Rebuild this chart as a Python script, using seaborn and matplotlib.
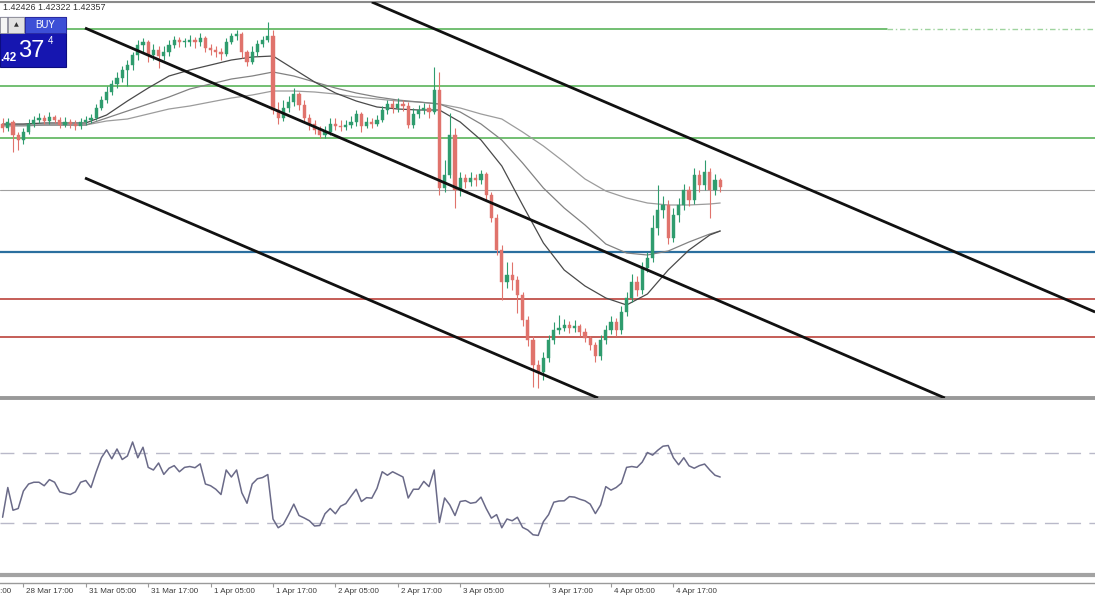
import numpy as np
import pandas as pd
import matplotlib.pyplot as plt
from matplotlib.patches import Rectangle
import seaborn as sns

# hourly bars (price)
closes = [1.4298, 1.4304, 1.4291, 1.4286, 1.4294, 1.4302, 1.4306, 1.4308, 1.4305, 1.4309,
          1.4306, 1.4301, 1.4304, 1.4302, 1.4300, 1.4304, 1.4306, 1.4308, 1.4318, 1.4326,
          1.4334, 1.4342, 1.4348, 1.4356, 1.4361, 1.4371, 1.4381, 1.4384, 1.4371, 1.4376,
          1.4370, 1.4374, 1.4381, 1.4386, 1.4384, 1.4384, 1.4386, 1.4384, 1.4388, 1.4378,
          1.4376, 1.4374, 1.4372, 1.4384, 1.4390, 1.4392, 1.4374, 1.4364, 1.4374, 1.4382,
          1.4386, 1.4390, 1.4316, 1.4308, 1.4318, 1.4324, 1.4332, 1.4321, 1.4308, 1.4302,
          1.4296, 1.4291, 1.4294, 1.4302, 1.4300, 1.4299, 1.4301, 1.4304, 1.4312, 1.4300,
          1.4304, 1.4302, 1.4306, 1.4316, 1.4322, 1.4318, 1.4322, 1.4320, 1.4301, 1.4312,
          1.4316, 1.4318, 1.4314, 1.4336, 1.4238, 1.4251, 1.4291, 1.4236, 1.4248, 1.4244,
          1.4248, 1.4246, 1.4252, 1.4231, 1.4208, 1.4176, 1.4144, 1.4151, 1.4146, 1.4131,
          1.4106, 1.4086, 1.4061, 1.4054, 1.4068, 1.4086, 1.4096, 1.4098, 1.4101, 1.4098,
          1.4100, 1.4094, 1.4088, 1.4081, 1.4070, 1.4086, 1.4096, 1.4104, 1.4096, 1.4114,
          1.4128, 1.4144, 1.4136, 1.4158, 1.4168, 1.4198, 1.4216, 1.4221, 1.4188, 1.4211,
          1.4221, 1.4236, 1.4226, 1.4251, 1.4241, 1.4254, 1.4236, 1.4246, 1.4239]
highs = [1.4308, 1.4308, 1.4306, 1.4294, 1.4298, 1.4307, 1.4310, 1.4313, 1.4311, 1.4314,
         1.4311, 1.4309, 1.4309, 1.4307, 1.4306, 1.4308, 1.4310, 1.4312, 1.4322, 1.4330,
         1.4340, 1.4346, 1.4354, 1.4360, 1.4366, 1.4374, 1.4386, 1.4388, 1.4386, 1.4382,
         1.4380, 1.4380, 1.4386, 1.4390, 1.4389, 1.4388, 1.4391, 1.4389, 1.4393, 1.4390,
         1.4382, 1.4380, 1.4378, 1.4388, 1.4393, 1.4396, 1.4394, 1.4376, 1.4380, 1.4386,
         1.4390, 1.4404, 1.4396, 1.4324, 1.4326, 1.4330, 1.4338, 1.4334, 1.4326, 1.4312,
         1.4306, 1.4300, 1.4300, 1.4308, 1.4308, 1.4306, 1.4306, 1.4310, 1.4316, 1.4314,
         1.4309, 1.4308, 1.4311, 1.4320, 1.4326, 1.4326, 1.4328, 1.4326, 1.4324, 1.4318,
         1.4321, 1.4323, 1.4322, 1.4359, 1.4354, 1.4266, 1.4313, 1.4298, 1.4254, 1.4252,
         1.4254, 1.4252, 1.4256, 1.4254, 1.4234, 1.4212, 1.4181, 1.4164, 1.4164, 1.4150,
         1.4134, 1.4110, 1.4090, 1.4066, 1.4074, 1.4091, 1.4104, 1.4111, 1.4107, 1.4105,
         1.4106, 1.4102, 1.4098, 1.4090, 1.4084, 1.4091, 1.4101, 1.4110, 1.4108, 1.4120,
         1.4134, 1.4152, 1.4150, 1.4164, 1.4174, 1.4211, 1.4241, 1.4230, 1.4226, 1.4218,
         1.4228, 1.4242, 1.4240, 1.4258, 1.4256, 1.4266, 1.4258, 1.4252, 1.4248]
lows = [1.4294, 1.4295, 1.4274, 1.4276, 1.4282, 1.4292, 1.4299, 1.4303, 1.4302, 1.4302,
        1.4303, 1.4298, 1.4299, 1.4298, 1.4296, 1.4297, 1.4301, 1.4303, 1.4306, 1.4316,
        1.4323, 1.4331, 1.4338, 1.4344, 1.4340, 1.4356, 1.4366, 1.4374, 1.4364, 1.4366,
        1.4358, 1.4366, 1.4370, 1.4378, 1.4379, 1.4379, 1.4380, 1.4378, 1.4380, 1.4374,
        1.4371, 1.4369, 1.4366, 1.4370, 1.4382, 1.4386, 1.4368, 1.4360, 1.4362, 1.4370,
        1.4379, 1.4384, 1.4312, 1.4302, 1.4305, 1.4314, 1.4320, 1.4316, 1.4304, 1.4296,
        1.4292, 1.4288, 1.4288, 1.4291, 1.4296, 1.4295, 1.4296, 1.4298, 1.4300, 1.4294,
        1.4298, 1.4298, 1.4300, 1.4304, 1.4312, 1.4313, 1.4314, 1.4315, 1.4298, 1.4298,
        1.4308, 1.4312, 1.4308, 1.4312, 1.4231, 1.4234, 1.4248, 1.4218, 1.4230, 1.4238,
        1.4240, 1.4240, 1.4242, 1.4226, 1.4204, 1.4171, 1.4126, 1.4138, 1.4136, 1.4113,
        1.4100, 1.4080, 1.4039, 1.4038, 1.4046, 1.4064, 1.4082, 1.4092, 1.4095, 1.4093,
        1.4094, 1.4090, 1.4084, 1.4076, 1.4064, 1.4066, 1.4082, 1.4092, 1.4090, 1.4092,
        1.4110, 1.4124, 1.4130, 1.4132, 1.4154, 1.4164, 1.4191, 1.4208, 1.4182, 1.4184,
        1.4204, 1.4216, 1.4220, 1.4222, 1.4234, 1.4236, 1.4208, 1.4231, 1.4234]
opens = [1.4302] + closes[:-1]

# moving averages, sampled every 4th bar
ma_idx = list(range(0, 137, 4)) + [138]
ma_fast = [1.4302, 1.4302, 1.4303, 1.4303, 1.4303, 1.4311, 1.4325, 1.4338, 1.4350, 1.4356,
           1.4361, 1.4366, 1.4369, 1.4370, 1.4357, 1.4344, 1.4333, 1.4325, 1.4319, 1.4317,
           1.4316, 1.4316, 1.4304, 1.4286, 1.4260, 1.4221, 1.4183, 1.4156, 1.4140, 1.4128,
           1.4121, 1.4132, 1.4156, 1.4176, 1.4191, 1.4195]
ma_mid = [1.4301, 1.4301, 1.4301, 1.4301, 1.4301, 1.4308, 1.4315, 1.4322, 1.4329, 1.4337,
          1.4342, 1.4347, 1.4350, 1.4354, 1.4350, 1.4344, 1.4338, 1.4333, 1.4329, 1.4326,
          1.4324, 1.4322, 1.4314, 1.4302, 1.4286, 1.4263, 1.4238, 1.4218, 1.4201, 1.4182,
          1.4173, 1.4171, 1.4175, 1.4184, 1.4192, 1.4195]
ma_slow = [1.4300, 1.4300, 1.4301, 1.4301, 1.4301, 1.4305, 1.4307, 1.4312, 1.4317, 1.4320,
           1.4324, 1.4328, 1.4331, 1.4335, 1.4335, 1.4334, 1.4332, 1.4329, 1.4327, 1.4325,
           1.4324, 1.4322, 1.4318, 1.4312, 1.4307, 1.4294, 1.4280, 1.4264, 1.4247, 1.4235,
           1.4228, 1.4223, 1.4221, 1.4221, 1.4222, 1.4223]

rsi = [33, 50, 37, 38, 48, 52, 53, 53, 51, 54.5,
       53, 47.5, 46.7, 46, 47.5, 53, 54, 50, 59, 67,
       71.5, 66.4, 72, 66, 68, 76, 67, 73, 61.5, 60,
       64, 57.5, 61, 62.5, 59, 61.5, 62, 61.3, 63.5, 52,
       51, 49, 46, 60, 56, 60, 47, 41, 52, 55,
       55.7, 57.4, 32, 27, 29, 34.5, 40.5, 34, 32.6, 31,
       28, 28.3, 35, 38, 35, 39.3, 40.8, 45, 49, 42,
       44.2, 43.9, 49.5, 59, 57, 59, 57.5, 56, 44, 49,
       49, 53.5, 50.5, 60, 30, 44, 40, 34, 42, 42.5,
       41, 41.5, 44.5, 38, 32.5, 34.5, 27, 32, 31, 33,
       27.2, 25.7, 23, 22.6, 30.5, 34.5, 41.6, 42.3, 42.4, 44.8,
       44.5, 43.3, 42.4, 40.5, 35.1, 40, 50.5, 48.5, 50, 52.5,
       61.5, 62, 61.5, 64.5, 70, 68.5, 71.3, 73.6, 74, 67,
       63, 67, 62.4, 61, 62.5, 63.4, 60, 57, 56]

levels_green = [1.4397, 1.4340, 1.4288]
level_gray = 1.4236
level_blue = 1.4174
levels_red = [1.4127, 1.4089]

# trend channel (bar index, price)
chan_up = ([71.0, 210.1], [1.4424, 1.4114])
chan_mid = ([15.85, 181.2], [1.4398, 1.4028])
chan_low = ([15.85, 114.5], [1.4248, 1.4028])

tick_idx = [-8, 4, 16, 28, 40, 52, 64, 76, 88, 105, 117, 129]
tick_labels = ["28 Mar 05:00", "28 Mar 17:00", "31 Mar 05:00", "31 Mar 17:00", "1 Apr 05:00",
               "1 Apr 17:00", "2 Apr 05:00", "2 Apr 17:00", "3 Apr 05:00", "3 Apr 17:00",
               "4 Apr 05:00", "4 Apr 17:00"]

sns.set_theme(style="white")
plt.rcParams['font.family'] = ['Liberation Sans', 'DejaVu Sans']

bars = pd.DataFrame({"open": opens, "high": highs, "low": lows, "close": closes})
bars["idx"] = np.arange(len(bars))
ma = pd.DataFrame({"idx": ma_idx, "fast": ma_fast, "mid": ma_mid, "slow": ma_slow})
osc = pd.DataFrame({"idx": np.arange(len(rsi)), "rsi": rsi})

W, H = 1095, 600
fig = plt.figure(figsize=(W / 100, H / 100), dpi=100)
ax = fig.add_axes([0, 202 / H, 1, 396 / H])
ax_rsi = fig.add_axes([0, 25 / H, 1, 175 / H])
ax_t = fig.add_axes([0, 17 / H, 1, 5 / H])
xlim = (-0.5, W / 5.2 - 0.5)

# horizontal levels
ax.axhline(levels_green[0], xmin=0, xmax=0.81, color="#4cae4c", lw=1.1)
ax.axhline(levels_green[0], xmin=0.81, xmax=1, color="#9fd49f", lw=1.0, ls=(0, (4, 2, 1, 2)))
for lv in levels_green[1:]:
    ax.axhline(lv, color="#4cae4c", lw=1.1)
ax.axhline(level_gray, color="#a0a0a0", lw=0.8)
ax.axhline(level_blue, color="#2b6f9f", lw=1.6)
for lv in levels_red:
    ax.axhline(lv, color="#c0504a", lw=1.3)

# moving averages
sns.lineplot(data=ma, x="idx", y="slow", ax=ax, color="#9c9c9c", lw=0.9)
sns.lineplot(data=ma, x="idx", y="mid", ax=ax, color="#828282", lw=0.9)
sns.lineplot(data=ma, x="idx", y="fast", ax=ax, color="#4a4a4a", lw=0.9)

# candles
up = bars["close"] >= bars["open"]
col = np.where(up, "#2f9c6e", "#e0736c")
ax.vlines(bars["idx"], bars["low"], bars["high"], colors=col, lw=0.8, zorder=3)
body_lo = np.minimum(bars["open"], bars["close"])
body_h = np.maximum((bars["close"] - bars["open"]).abs(), 0.00008)
ax.bar(bars["idx"], body_h, bottom=body_lo, width=0.6, color=col, edgecolor=col, lw=0.3, zorder=4)

# channel
for xs, ys in (chan_up, chan_mid, chan_low):
    ax.plot(xs, ys, color="#111111", lw=2.0, solid_capstyle="butt", zorder=5)

ax.set_ylim(1.4028, 1.4424)

# RSI pane
ax_rsi.axhline(70, color="#b9b9c9", lw=1.0, dashes=(10, 6))
ax_rsi.axhline(30, color="#b9b9c9", lw=1.0, dashes=(10, 6))
sns.lineplot(data=osc, x="idx", y="rsi", ax=ax_rsi, color="#6a6a88", lw=1.1)
ax_rsi.set_ylim(0, 100)

for a in (ax, ax_rsi, ax_t):
    a.set_xlabel("")
    a.set_ylabel("")
    a.set_yticks([])
    for s in a.spines.values():
        s.set_visible(False)
ax.set_xticks([])
ax_rsi.set_xticks([])
ax.set_xlim(*xlim)
ax_rsi.set_xlim(*xlim)
ax.spines["top"].set_visible(True)
ax.spines["top"].set_color("#8a8a8a")
ax.spines["top"].set_linewidth(1.5)
ax.spines["bottom"].set_visible(True)
ax.spines["bottom"].set_color("#999999")
ax.spines["bottom"].set_linewidth(2.8)
ax_rsi.spines["bottom"].set_visible(True)
ax_rsi.spines["bottom"].set_color("#a3a3a3")
ax_rsi.spines["bottom"].set_linewidth(3.0)

# time axis
ax_t.patch.set_alpha(0)
ax_t.spines["bottom"].set_visible(True)
ax_t.spines["bottom"].set_color("#9a9a9a")
ax_t.spines["bottom"].set_linewidth(1.0)
ax_t.set_xticks(tick_idx)
ax_t.set_xticklabels([])
ax_t.set_xlim(*xlim)
ax_t.tick_params(axis="x", bottom=True, direction="out", length=3, width=0.8, color="#9a9a9a")
for t, lab in zip(tick_idx, tick_labels):
    ax_t.annotate(lab, xy=(t, 0), xycoords=("data", "axes fraction"), xytext=(3, -5),
                  textcoords="offset pixels", ha="left", va="top", fontsize=5.8,
                  color="#3a3a3a", annotation_clip=False)

# trade panel overlay, top-left
ov = fig.add_axes([0, 0, 1, 1], zorder=10)
ov.set_xlim(0, W)
ov.set_ylim(H, 0)
ov.axis("off")
ov.patch.set_alpha(0)
ov.text(3, 8, "1.42426 1.42322 1.42357", fontsize=6.4, color="#303030", va="center", ha="left")
ov.add_patch(Rectangle((0, 17), 66, 50, facecolor="#1616b0", edgecolor="#0c0c80", lw=0.8))
ov.add_patch(Rectangle((0, 17), 7, 16, facecolor="#f4f4f4", edgecolor="#9a9a9a", lw=0.6))
ov.add_patch(Rectangle((8, 17), 16, 16, facecolor="#e2e2e2", edgecolor="#9a9a9a", lw=0.6))
ov.add_patch(Rectangle((25, 17), 41, 16, facecolor="#3d4fd6", edgecolor="#2a2aa0", lw=0.6))
ov.text(16, 25, "\u25b2", fontsize=4.5, color="#333333", ha="center", va="center", family="DejaVu Sans")
ov.text(45.5, 25.5, "BUY", fontsize=7, color="white", ha="center", va="center")
ov.text(0, 58, ".42", fontsize=8.5, color="white", ha="left", va="center", fontweight="bold")
ov.text(18, 51, "37", fontsize=17, color="white", ha="left", va="center")
ov.text(48, 41, "4", fontsize=7, color="white", ha="left", va="center")

fig.savefig("out.png", dpi=100, facecolor="white")
